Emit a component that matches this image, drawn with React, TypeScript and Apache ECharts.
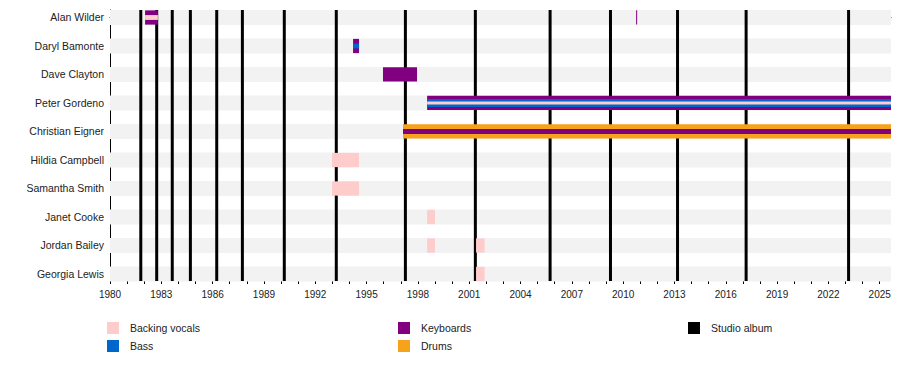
import React, { useEffect, useRef } from 'react';
import * as echarts from 'echarts';

const members = [
  'Alan Wilder',
  'Daryl Bamonte',
  'Dave Clayton',
  'Peter Gordeno',
  'Christian Eigner',
  'Hildia Campbell',
  'Samantha Smith',
  'Janet Cooke',
  'Jordan Bailey',
  'Georgia Lewis',
];

const X_MIN = 1980;
const X_MAX = 2025.66;

// roles per member: first role = full bar, following = inner stripes
const memberRoles = [
  ['Keyboards', 'Backing vocals'],
  ['Keyboards', 'Bass'],
  ['Keyboards'],
  ['Keyboards', 'Bass', 'Backing vocals'],
  ['Drums', 'Keyboards'],
  ['Backing vocals'],
  ['Backing vocals'],
  ['Backing vocals'],
  ['Backing vocals'],
  ['Backing vocals'],
];

// [member index, start, end]
const backingVocals = [
  [0, 1982.05, 1982.8],
  [3, 1998.54, X_MAX],
  [5, 1992.98, 1994.56],
  [6, 1992.98, 1994.56],
  [7, 1998.54, 1999.0],
  [8, 1998.54, 1999.0],
  [8, 2001.4, 2001.9],
  [9, 2001.4, 2001.9],
];
const bass = [
  [1, 1994.21, 1994.56],
  [3, 1998.54, X_MAX],
];
const keyboards = [
  [0, 1982.05, 1982.8],
  [0, 2010.76, 2010.82],
  [1, 1994.21, 1994.56],
  [2, 1995.96, 1997.95],
  [3, 1998.54, X_MAX],
  [4, 1997.13, X_MAX],
];
const drums = [[4, 1997.13, X_MAX]];

const studioAlbums = [
  1981.8, 1982.73, 1983.64, 1984.7, 1986.24, 1987.74, 1990.19, 1993.23,
  1997.27, 2001.36, 2005.73, 2009.26, 2013.18, 2017.19, 2023.18,
];

const majorTicks = [
  1980, 1983, 1986, 1989, 1992, 1995, 1998, 2001, 2004, 2007, 2010, 2013,
  2016, 2019, 2022, 2025,
];

const roleColors: Record<string, string> = {
  'Backing vocals': '#FFCCCC',
  Bass: '#0066CC',
  Keyboards: '#800080',
  Drums: '#F7A21B',
};

const FONT = '"Liberation Sans", Arial, Helvetica, sans-serif';

function buildRoleData(role: string, segs: number[][]) {
  return segs.map(([row, s, e]) => {
    const roles = memberRoles[row];
    const lvl = Math.max(0, roles.indexOf(role));
    let frac = 1;
    if (roles.length === 2) frac = lvl === 0 ? 1 : 0.34;
    if (roles.length === 3) frac = [1, 0.57, 0.2][lvl];
    return [s, row, e, lvl, frac];
  });
}

export default function App() {
  const ref = useRef<HTMLDivElement>(null);

  useEffect(() => {
    document.body.style.margin = '0';
    if (!ref.current) return;
    const chart = echarts.init(ref.current, undefined, { renderer: 'svg' });

    const minorTicks: number[] = [];
    for (let y = 1980; y <= 2025; y++) minorTicks.push(y);

    const roleSeries = (name: string, segs: number[][]) => ({
      name,
      type: 'custom',
      z: 3,
      itemStyle: { color: roleColors[name] },
      data: buildRoleData(name, segs),
      encode: { x: [0, 2], y: 1 },
      renderItem: (params: any, api: any) => {
        const s = api.value(0);
        const row = api.value(1);
        const e = api.value(2);
        const lvl = api.value(3);
        const frac = api.value(4);
        const p0 = api.coord([s, row]);
        const p1 = api.coord([e, row]);
        const rowPx = api.size([0, 1])[1];
        const h = rowPx * 0.5 * frac;
        return {
          type: 'rect',
          z2: 10 + lvl,
          shape: {
            x: p0[0],
            y: p0[1] - h / 2,
            width: Math.max(p1[0] - p0[0], 1),
            height: h,
          },
          style: { fill: roleColors[name] },
        };
      },
    });

    const legendBase = {
      orient: 'vertical',
      top: 322,
      padding: 0,
      icon: 'rect',
      itemWidth: 12,
      itemHeight: 12,
      itemGap: 6,
      selectedMode: false,
      textStyle: { fontSize: 10.5, color: '#222', fontFamily: FONT, padding: [0, 0, 0, 6] },
    };

    const option: any = {
      animation: false,
      textStyle: { fontFamily: FONT },
      grid: { left: 110, right: 9, top: 10, bottom: 99 },
      xAxis: [
        {
          type: 'value',
          min: X_MIN,
          max: X_MAX,
          position: 'bottom',
          splitLine: { show: false },
          axisLine: { show: true, lineStyle: { color: '#000', width: 1 } },
          axisTick: {
            show: true,
            length: 5,
            customValues: majorTicks,
            lineStyle: { color: '#000' },
          },
          axisLabel: {
            customValues: majorTicks,
            formatter: (v: number) => String(v),
            color: '#222',
            fontSize: 10,
            fontFamily: FONT,
            margin: 8,
          },
        },
        {
          type: 'value',
          min: X_MIN,
          max: X_MAX,
          position: 'bottom',
          offset: 0,
          splitLine: { show: false },
          axisLine: { show: false },
          axisTick: {
            show: true,
            length: 3,
            customValues: minorTicks,
            lineStyle: { color: '#000' },
          },
          axisLabel: { show: false },
        },
      ],
      yAxis: {
        type: 'value',
        min: -0.263,
        max: 9.246,
        inverse: true,
        splitLine: { show: false },
        axisTick: { show: false },
        axisLabel: { show: false },
        axisLine: { show: true, lineStyle: { color: '#000', width: 1 } },
      },
      legend: [
        { ...legendBase, data: ['Backing vocals', 'Bass'], left: 107 },
        { ...legendBase, data: ['Keyboards', 'Drums'], left: 398 },
        { ...legendBase, data: ['Studio album'], left: 688 },
      ],
      series: [
        {
          name: 'rows',
          type: 'custom',
          z: 1,
          silent: true,
          data: members.map((m, i) => [X_MIN, i]),
          renderItem: (params: any, api: any) => {
            const row = api.value(1);
            const p0 = api.coord([X_MIN, row]);
            const p1 = api.coord([X_MAX, row]);
            const rowPx = api.size([0, 1])[1];
            const h = rowPx * 0.52;
            return {
              type: 'group',
              children: [
                {
                  type: 'rect',
                  shape: { x: p0[0], y: p0[1] - h / 2, width: p1[0] - p0[0], height: h },
                  style: { fill: '#F2F2F2' },
                },
                {
                  type: 'text',
                  style: {
                    text: members[row],
                    x: p0[0] - 6,
                    y: p0[1],
                    align: 'right',
                    verticalAlign: 'middle',
                    fontSize: 10.5,
                    fontFamily: FONT,
                    fill: '#222',
                  },
                },
              ],
            };
          },
        },
        {
          name: 'Studio album',
          type: 'custom',
          z: 2,
          itemStyle: { color: '#000' },
          data: studioAlbums.map((v) => [v, 0]),
          renderItem: (params: any, api: any) => {
            const v = api.value(0);
            const top = api.coord([v, -0.263]);
            const bot = api.coord([v, 9.246]);
            return {
              type: 'rect',
              shape: { x: top[0] - 1.5, y: top[1], width: 3, height: bot[1] - top[1] },
              style: { fill: '#000' },
            };
          },
        },
        roleSeries('Backing vocals', backingVocals),
        roleSeries('Bass', bass),
        roleSeries('Keyboards', keyboards),
        roleSeries('Drums', drums),
      ],
    };

    chart.setOption(option);
    return () => chart.dispose();
  }, []);

  return <div ref={ref} style={{ width: 900, height: 380 }} />;
}
